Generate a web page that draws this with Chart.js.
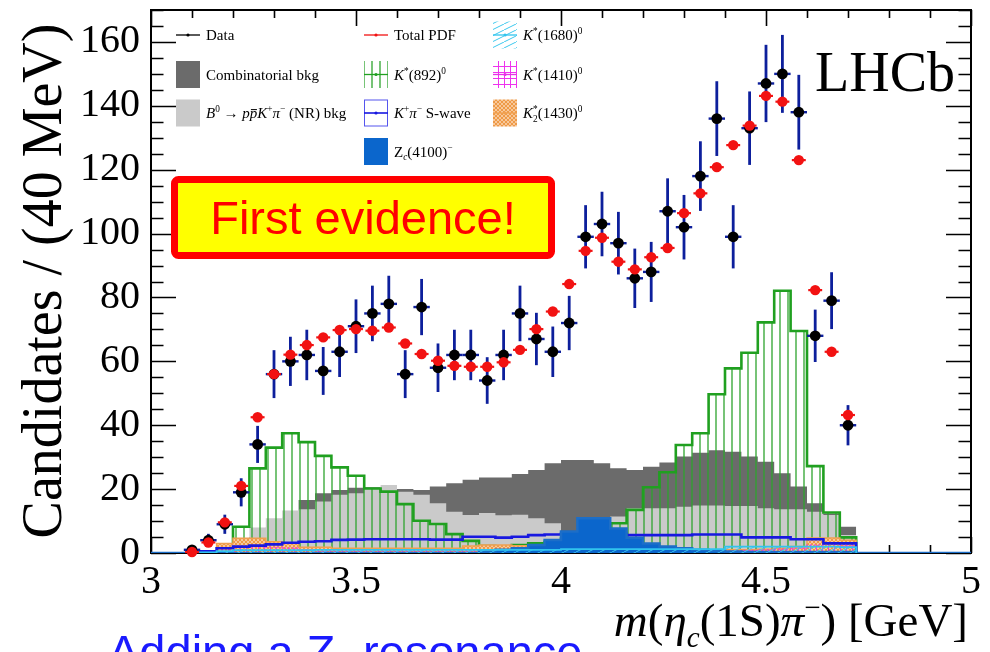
<!DOCTYPE html>
<html>
<head>
<meta charset="utf-8">
<script src="https://cdn.jsdelivr.net/npm/chart.js@4.4.1/dist/chart.umd.min.js"></script>
<style>
  html, body { margin: 0; padding: 0; background: #fff; }
  canvas { display: block; }
</style>
</head>
<body>
<canvas id="c" width="990" height="652" style="width:990px;height:652px"></canvas>
<script>
// m(eta_c(1S) pi-) spectrum, 40 MeV bins (bin centres in GeV)
const binCenters = [3.10, 3.14, 3.18, 3.22, 3.26, 3.30, 3.34, 3.38, 3.42, 3.46, 3.50, 3.54, 3.58, 3.62, 3.66, 3.70, 3.74, 3.78, 3.82, 3.86, 3.90, 3.94, 3.98, 4.02, 4.06, 4.10, 4.14, 4.18, 4.22, 4.26, 4.30, 4.34, 4.38, 4.42, 4.46, 4.50, 4.54, 4.58, 4.62, 4.66, 4.70];
const BIN_WIDTH = 0.04;

// observed candidates and their uncertainties
const dataCounts = [1, 4, 9, 19, 34, 56, 60, 62, 57, 63, 71, 75, 78, 56, 77, 58, 62, 62, 54, 62, 75, 67, 63, 72, 99, 103, 97, 86, 88, 107, 102, 118, 136, 99, 133, 147, 150, 138, 68, 79, 40];
const dataErrors = [1.0, 2.0, 3.0, 4.4, 5.8, 7.5, 7.7, 7.9, 7.5, 7.9, 8.4, 8.7, 8.8, 7.5, 8.8, 7.6, 7.9, 7.9, 7.3, 7.9, 8.7, 8.2, 7.9, 8.5, 9.9, 10.1, 9.8, 9.3, 9.4, 10.3, 10.1, 10.9, 11.7, 9.9, 11.5, 12.1, 12.2, 11.7, 8.2, 8.9, 6.3];

// fit projection and its components
const totalPdf = [0.3, 3.3, 9.6, 21.0, 42.5, 56.0, 62.1, 65.1, 67.5, 69.8, 70.1, 69.6, 70.6, 65.6, 62.3, 60.2, 58.6, 58.3, 58.3, 59.7, 63.6, 70.1, 75.6, 84.2, 94.6, 98.7, 91.2, 88.8, 92.6, 95.5, 106.4, 112.6, 120.8, 127.7, 133.8, 143.1, 141.3, 123.0, 82.3, 63.0, 43.2];
const combBkg = [0, 0, 0.5, 2, 5, 8, 11, 16.6, 18.7, 19.7, 20.4, 20.6, 20.2, 20.0, 19.7, 20.8, 21.8, 22.9, 23.6, 23.6, 24.7, 26.0, 28.1, 29.1, 29.1, 28.1, 26.5, 26.0, 27.0, 28.3, 30.2, 31.4, 32.2, 31.7, 30.2, 28.6, 25.0, 20.8, 15.6, 12.4, 8.2];
const nrBkg = [0, 0, 1, 4, 8, 10.9, 13.3, 13.7, 16.1, 18.2, 18.7, 20.2, 21.3, 19.2, 18.2, 15.6, 12.9, 11.9, 12.5, 11.8, 12.0, 10.9, 9.3, 6.5, 8.0, 9.5, 11.4, 14.0, 14.0, 14.0, 14.5, 14.9, 14.9, 14.7, 14.7, 14.0, 13.7, 13.7, 12.9, 11.9, 5.6];
const kst892 = [0, 0, 0, 8.2, 26.5, 33.0, 37.5, 34.7, 30.4, 26.8, 24.2, 20.2, 19.2, 15.3, 10.1, 9.1, 5.9, 3.8, 2.2, 2.0, 2.5, 3.0, 3.5, 4.5, 5.5, 7.0, 9.3, 13.5, 20.6, 25.3, 33.8, 37.5, 49.7, 57.8, 62.7, 72.2, 82.1, 69.5, 27.2, 12.7, 4.9];
const kpiSwave = [0, 0.5, 1.5, 2.0, 2.3, 2.7, 3.2, 3.5, 3.7, 4.1, 4.2, 4.3, 4.3, 4.3, 4.3, 4.2, 4.2, 5.1, 5.1, 4.8, 5.1, 5.6, 5.8, 6.0, 6.0, 6.0, 6.0, 5.6, 5.6, 5.6, 5.6, 5.8, 5.8, 5.8, 4.9, 4.9, 4.9, 4.3, 4.3, 3.0, 3.0];
const zc4100 = [0, 0, 0, 0, 0, 0, 0, 0, 0, 0, 0, 0, 0, 0, 0, 0, 0, 0, 0.5, 1.0, 1.5, 2.5, 4.1, 6.7, 10.9, 10.9, 7.7, 4.8, 3.0, 2.0, 1.5, 1.0, 0.7, 0.5, 0.3, 0.3, 0.3, 0.3, 0.3, 0.3, 0.3];
const kst1680 = [0, 0.2, 0.6, 0.9, 0.9, 0.9, 0.9, 0.9, 1.0, 1.0, 1.0, 1.0, 1.0, 1.0, 1.0, 1.0, 1.0, 1.0, 1.0, 1.0, 1.0, 1.0, 1.0, 1.2, 1.2, 1.2, 1.2, 1.2, 1.2, 1.2, 1.2, 1.2, 1.2, 2.0, 2.0, 2.0, 2.0, 2.0, 2.0, 2.0, 1.8];
const kst1410 = [0, 0.3, 1.5, 2.0, 2.0, 1.8, 1.5, 1.0, 0.6, 0.6, 0.6, 0.6, 0.6, 0.6, 0.6, 0.6, 0.6, 0.6, 0.4, 0.4, 0.4, 0.4, 0.4, 0.4, 0.4, 0.4, 0.4, 0.4, 0.4, 0.4, 0.4, 0.4, 0.4, 0.6, 0.8, 1.0, 1.2, 1.5, 2.5, 3.0, 2.5];
const k2st1430 = [0, 0.5, 3.0, 4.6, 4.6, 3.5, 3.0, 1.8, 1.8, 1.5, 1.5, 1.5, 1.5, 1.5, 1.5, 1.5, 1.5, 2.2, 2.5, 2.5, 2.3, 2.0, 1.8, 1.0, 1.0, 1.0, 1.0, 1.0, 1.0, 1.0, 1.0, 1.0, 1.0, 1.0, 1.0, 1.2, 1.5, 2.0, 4.7, 4.7, 4.0];

// axes
const xTickValues = [3, 3.5, 4, 4.5, 5];
const yTickValues = [0, 20, 40, 60, 80, 100, 120, 140, 160];
const X_MIN = 3, X_MAX = 5, Y_MIN = 0, Y_MAX = 170;

const SERIF = '"Liberation Serif", "Times New Roman", serif';
const SANS = '"Liberation Sans", Arial, sans-serif';

const canvas = document.getElementById('c');
const ctx0 = canvas.getContext('2d');

function makePattern(w, h, draw) {
  const c = document.createElement('canvas');
  c.width = w; c.height = h;
  draw(c.getContext('2d'), w, h);
  return ctx0.createPattern(c, 'repeat');
}
const greenHatch = makePattern(8, 8, (g) => {
  g.strokeStyle = '#2ea42e'; g.lineWidth = 1.3;
  g.beginPath(); g.moveTo(4, 0); g.lineTo(4, 8); g.stroke();
});
const cyanHatch = makePattern(12, 6, (g) => {
  g.strokeStyle = '#3cc8ee'; g.lineWidth = 1;
  g.beginPath(); g.moveTo(0, 6); g.lineTo(12, 0); g.stroke();
});
const magentaHatch = makePattern(6, 6, (g) => {
  g.strokeStyle = '#ee33ee'; g.lineWidth = 1;
  g.beginPath(); g.moveTo(0, 0.5); g.lineTo(6, 0.5); g.moveTo(0.5, 0); g.lineTo(0.5, 6); g.stroke();
});
const orangeHatch = makePattern(4, 4, (g) => {
  g.fillStyle = '#f8c89a'; g.fillRect(0, 0, 4, 4);
  g.strokeStyle = '#ee9a48'; g.lineWidth = 1;
  g.beginPath(); g.moveTo(0, 0); g.lineTo(4, 4); g.moveTo(4, 0); g.lineTo(0, 4); g.stroke();
});

// step outline of a binned component, built from the bin centres
function histPoints(values, extend) {
  const half = BIN_WIDTH / 2;
  let a = 0, b = values.length - 1;
  while (a < b && values[a] === 0) a++;
  while (b > a && values[b] === 0) b--;
  const pts = [];
  if (extend) pts.push({ x: X_MIN, y: 0 });
  pts.push({ x: binCenters[a] - half, y: 0 });
  for (let i = a; i <= b; i++) pts.push({ x: binCenters[i] - half, y: values[i] });
  pts.push({ x: binCenters[b] + half, y: 0 });
  if (extend) pts.push({ x: X_MAX, y: 0 });
  return pts;
}
function histDataset(label, values, style, order, extend) {
  return Object.assign({
    label, order,
    data: histPoints(values, extend),
    stepped: 'before', tension: 0, pointRadius: 0, pointHoverRadius: 0,
    fill: 'origin', borderJoinStyle: 'miter'
  }, style);
}

const datasets = [
  histDataset('Combinatorial bkg', combBkg, { backgroundColor: '#6b6b6b', borderWidth: 0, borderColor: 'rgba(0,0,0,0)' }, 20, false),
  histDataset('NR bkg', nrBkg, { backgroundColor: '#cacaca', borderWidth: 0, borderColor: 'rgba(0,0,0,0)' }, 19, false),
  histDataset('K*(892)0', kst892, { backgroundColor: greenHatch, borderColor: '#20a020', borderWidth: 2.6 }, 18, false),
  histDataset('K2*(1430)0', k2st1430, { backgroundColor: orangeHatch, borderColor: '#f0a050', borderWidth: 1.5 }, 17, false),
  histDataset('K*(1410)0', kst1410, { backgroundColor: magentaHatch, borderColor: '#e830e8', borderWidth: 1.2, borderDash: [2, 2] }, 16, false),
  histDataset('K+pi- S-wave', kpiSwave, { backgroundColor: 'rgba(0,0,0,0)', fill: false, borderColor: '#1818e0', borderWidth: 2.6 }, 15, false),
  histDataset('Zc(4100)-', zc4100, { backgroundColor: '#0b66cc', borderColor: '#1c6ec8', borderWidth: 2.5 }, 14, true),
  histDataset('K*(1680)0', kst1680, { backgroundColor: cyanHatch, borderColor: '#30c4ee', borderWidth: 1.8 }, 13, false),
  {
    label: 'Data', order: 2, showLine: false, clip: false,
    data: binCenters.map((x, i) => ({ x, y: dataCounts[i] })),
    pointRadius: 5.4, pointHoverRadius: 5.4, pointBackgroundColor: '#000', pointBorderWidth: 0, borderColor: '#000'
  },
  {
    label: 'Total PDF', order: 1, showLine: false, clip: false,
    data: binCenters.map((x, i) => ({ x, y: totalPdf[i] })),
    pointRadius: 5.2, pointHoverRadius: 5.2, pointBackgroundColor: '#f21212', pointBorderWidth: 0, borderColor: '#f21212'
  }
];
const DATA_IDX = 8, TOTAL_IDX = 9;

// error bars (data) and bin-width bars (data and fit), drawn just before their markers
const errorBars = {
  id: 'errorBars',
  beforeDatasetDraw(chart, args) {
    if (args.index !== DATA_IDX && args.index !== TOTAL_IDX) return;
    const ctx = chart.ctx, xs = chart.scales.x, ys = chart.scales.y;
    const half = BIN_WIDTH / 2;
    ctx.save();
    ctx.lineCap = 'butt';
    binCenters.forEach((c, i) => {
      if (args.index === DATA_IDX) {
        const px = xs.getPixelForValue(c);
        const v = dataCounts[i], e = dataErrors[i];
        ctx.strokeStyle = '#0d1f9c';
        ctx.lineWidth = 2.8;
        ctx.beginPath();
        ctx.moveTo(px, ys.getPixelForValue(v + e));
        ctx.lineTo(px, ys.getPixelForValue(Math.max(v - e, 0)));
        ctx.stroke();
        ctx.lineWidth = 2.4;
        ctx.beginPath();
        ctx.moveTo(xs.getPixelForValue(c - half), ys.getPixelForValue(v));
        ctx.lineTo(xs.getPixelForValue(c + half), ys.getPixelForValue(v));
        ctx.stroke();
      } else {
        const v = totalPdf[i];
        ctx.strokeStyle = '#f21212';
        ctx.lineWidth = 2.2;
        ctx.beginPath();
        ctx.moveTo(xs.getPixelForValue(c - half * 0.85), ys.getPixelForValue(v));
        ctx.lineTo(xs.getPixelForValue(c + half * 0.85), ys.getPixelForValue(v));
        ctx.stroke();
      }
    });
    ctx.restore();
  }
};

// frame with inward major/minor ticks on all four sides
const frameTicks = {
  id: 'frameTicks',
  beforeDatasetsDraw(chart) {
    const ctx = chart.ctx, xs = chart.scales.x, ys = chart.scales.y;
    const { left, right, top, bottom } = chart.chartArea;
    ctx.save();
    ctx.strokeStyle = '#000';
    ctx.lineWidth = 1.6;
    ctx.beginPath();
    for (let k = 0; k * 5 <= Y_MAX; k++) {
      const v = k * 5;
      const len = (v % 20 === 0) ? 25 : 12.5;
      const py = Math.round(ys.getPixelForValue(v)) + 0.5;
      ctx.moveTo(left, py); ctx.lineTo(left + len, py);
      ctx.moveTo(right, py); ctx.lineTo(right - len, py);
    }
    for (let k = 0; k <= 20; k++) {
      const v = X_MIN + k * 0.1;
      const len = (k % 5 === 0) ? 16 : 8;
      const px = Math.round(xs.getPixelForValue(v)) + 0.5;
      ctx.moveTo(px, bottom); ctx.lineTo(px, bottom - len);
      ctx.moveTo(px, top); ctx.lineTo(px, top + len);
    }
    ctx.stroke();
    ctx.lineWidth = 2;
    ctx.strokeRect(left, top, right - left, bottom - top);
    ctx.restore();
  }
};

// text with italic / super- / subscript runs
// style flags: i italic, ^ superscript, _ subscript, o overline, = no advance
function richWidth(ctx, parts, size, family) {
  let w = 0;
  parts.forEach(([t, s]) => {
    if (s.includes('=')) return;
    const small = s.includes('^') || s.includes('_');
    ctx.font = (s.includes('i') ? 'italic ' : '') + (small ? size * 0.62 : size) + 'px ' + family;
    w += ctx.measureText(t).width;
  });
  return w;
}
function drawRich(ctx, parts, x, y, size, family, align) {
  if (align === 'right') x -= richWidth(ctx, parts, size, family);
  if (align === 'center') x -= richWidth(ctx, parts, size, family) / 2;
  ctx.textAlign = 'left';
  ctx.textBaseline = 'alphabetic';
  parts.forEach(([t, s]) => {
    const small = s.includes('^') || s.includes('_');
    const fs = small ? size * 0.62 : size;
    ctx.font = (s.includes('i') ? 'italic ' : '') + fs + 'px ' + family;
    const dy = s.includes('^') ? -size * 0.4 : (s.includes('_') ? size * 0.24 : 0);
    ctx.fillText(t, x, y + dy);
    const w = ctx.measureText(t).width;
    if (s.includes('o')) {
      ctx.save();
      ctx.strokeStyle = ctx.fillStyle; ctx.lineWidth = Math.max(1, size * 0.06);
      ctx.beginPath(); ctx.moveTo(x + w * 0.15, y - size * 0.56); ctx.lineTo(x + w * 0.95, y - size * 0.56); ctx.stroke();
      ctx.restore();
    }
    if (!s.includes('=')) x += w;
  });
}

const yTitle = 'Candidates / (40 MeV)';
const xTitleParts = [['m', 'i'], ['(', ''], ['\u03B7', 'i'], ['c', 'i_'], ['(1S)', ''], ['\u03C0', 'i'], ['\u2212', '^'], [') [GeV]', '']];
const legendEntries = [
  { col: 0, row: 0, kind: 'line', color: '#000', parts: [['Data', '']] },
  { col: 0, row: 1, kind: 'box', fill: '#6b6b6b', parts: [['Combinatorial bkg', '']] },
  { col: 0, row: 2, kind: 'box', fill: '#cacaca', parts: [['B', 'i'], ['0', '^'], [' \u2192 ', ''], ['p', 'i'], ['p', 'io'], ['K', 'i'], ['+', '^'], ['\u03C0', 'i'], ['\u2212', '^'], [' (NR) bkg', '']] },
  { col: 1, row: 0, kind: 'line', color: '#f21212', parts: [['Total PDF', '']] },
  { col: 1, row: 1, kind: 'hatch', fill: greenHatch, color: '#20a020', parts: [['K', 'i'], ['*', '^'], ['(892)', ''], ['0', '^']] },
  { col: 1, row: 2, kind: 'outline', color: '#1818e0', parts: [['K', 'i'], ['+', '^'], ['\u03C0', 'i'], ['\u2212', '^'], [' S-wave', '']] },
  { col: 1, row: 3, kind: 'box', fill: '#0b66cc', parts: [['Z', ''], ['c', 'i_'], ['(4100)', ''], ['\u2212', '^']] },
  { col: 2, row: 0, kind: 'hatch', fill: cyanHatch, color: '#30c4ee', parts: [['K', 'i'], ['*', '^'], ['(1680)', ''], ['0', '^']] },
  { col: 2, row: 1, kind: 'hatch', fill: magentaHatch, color: '#e830e8', parts: [['K', 'i'], ['*', '^'], ['(1410)', ''], ['0', '^']] },
  { col: 2, row: 2, kind: 'hatch', fill: orangeHatch, color: '#f0a050', parts: [['K', 'i'], ['2', '_='], ['*', '^'], ['(1430)', ''], ['0', '^']] }
];
const legendColX = [176, 364, 493];
const legendRowY = [35, 74.5, 113, 151.5];

const annotations = {
  id: 'annotations',
  afterDraw(chart) {
    const ctx = chart.ctx;
    ctx.save();
    ctx.fillStyle = '#000';

    // y-axis title
    ctx.save();
    ctx.translate(61, 281);
    ctx.rotate(-Math.PI / 2);
    ctx.font = '56px ' + SERIF;
    ctx.textAlign = 'center';
    ctx.textBaseline = 'alphabetic';
    ctx.fillText(yTitle, 0, 0);
    ctx.restore();

    // x-axis title
    drawRich(ctx, xTitleParts, 968, 636, 47, SERIF, 'right');

    // experiment label
    ctx.font = '56px ' + SERIF;
    ctx.textAlign = 'left';
    ctx.fillText('LHCb', 815, 91);

    // legend
    legendEntries.forEach((e) => {
      const x0 = legendColX[e.col], yc = legendRowY[e.row];
      const w = 24, h = 27;
      if (e.kind === 'line') {
        ctx.strokeStyle = e.color; ctx.lineWidth = 1.3;
        ctx.beginPath(); ctx.moveTo(x0, yc); ctx.lineTo(x0 + w, yc); ctx.stroke();
        ctx.fillStyle = e.color;
        ctx.beginPath(); ctx.arc(x0 + w / 2, yc, 1.6, 0, Math.PI * 2); ctx.fill();
      } else if (e.kind === 'box') {
        ctx.fillStyle = e.fill; ctx.fillRect(x0, yc - h / 2, w, h);
      } else if (e.kind === 'hatch') {
        ctx.fillStyle = e.fill; ctx.fillRect(x0, yc - h / 2, w, h);
        ctx.strokeStyle = e.color; ctx.lineWidth = 1.3;
        ctx.beginPath(); ctx.moveTo(x0, yc); ctx.lineTo(x0 + w, yc); ctx.stroke();
        ctx.fillStyle = e.color;
        ctx.beginPath(); ctx.arc(x0 + w / 2, yc, 1.6, 0, Math.PI * 2); ctx.fill();
      } else if (e.kind === 'outline') {
        ctx.strokeStyle = '#5555ee'; ctx.lineWidth = 1;
        ctx.strokeRect(x0 + 0.5, yc - h / 2 + 0.5, w - 1, h - 1);
        ctx.strokeStyle = e.color; ctx.lineWidth = 1.6;
        ctx.beginPath(); ctx.moveTo(x0, yc); ctx.lineTo(x0 + w, yc); ctx.stroke();
        ctx.fillStyle = e.color;
        ctx.beginPath(); ctx.arc(x0 + w / 2, yc, 1.6, 0, Math.PI * 2); ctx.fill();
      }
      ctx.fillStyle = '#000';
      drawRich(ctx, e.parts, x0 + 30, yc + 5, 15, SERIF, 'left');
    });

    // highlighted note
    ctx.beginPath();
    ctx.roundRect(174.5, 179.5, 377, 76, 4);
    ctx.fillStyle = '#ffff00';
    ctx.fill();
    ctx.lineWidth = 7;
    ctx.strokeStyle = '#ff0000';
    ctx.stroke();
    ctx.fillStyle = '#ff0000';
    ctx.font = '47px ' + SANS;
    ctx.textAlign = 'center';
    ctx.textBaseline = 'alphabetic';
    ctx.fillText('First evidence!', 363, 234);

    // caption running off the bottom edge
    ctx.fillStyle = '#1a1aff';
    drawRich(ctx, [['Adding a Z', ''], ['c', '_'], [' resonance', '']], 108, 668, 47, SANS, 'left');

    ctx.restore();
  }
};

new Chart(canvas, {
  type: 'line',
  data: { datasets },
  options: {
    responsive: false,
    devicePixelRatio: 1,
    animation: false,
    events: [],
    layout: { padding: { left: 0, right: 19, top: 10, bottom: 0 } },
    plugins: { legend: { display: false }, tooltip: { enabled: false } },
    scales: {
      x: {
        type: 'linear', min: X_MIN, max: X_MAX,
        grid: { display: false, drawTicks: false },
        border: { display: false },
        afterBuildTicks: (s) => { s.ticks = xTickValues.map((v) => ({ value: v })); },
        afterFit: (s) => { s.height = 99; s.paddingLeft = 0; s.paddingRight = 0; },
        ticks: {
          autoSkip: false, maxRotation: 0, padding: 5, color: '#000',
          font: { family: SERIF, size: 40 },
          callback: (v) => String(v)
        }
      },
      y: {
        type: 'linear', min: Y_MIN, max: Y_MAX,
        grid: { display: false, drawTicks: false },
        border: { display: false },
        afterBuildTicks: (s) => { s.ticks = yTickValues.map((v) => ({ value: v })); },
        afterFit: (s) => { s.width = 151; s.paddingTop = 0; s.paddingBottom = 0; },
        ticks: {
          padding: 11, color: '#000',
          font: { family: SERIF, size: 40 },
          callback: (v) => String(v)
        }
      }
    }
  },
  plugins: [frameTicks, errorBars, annotations]
});
</script>
</body>
</html>
